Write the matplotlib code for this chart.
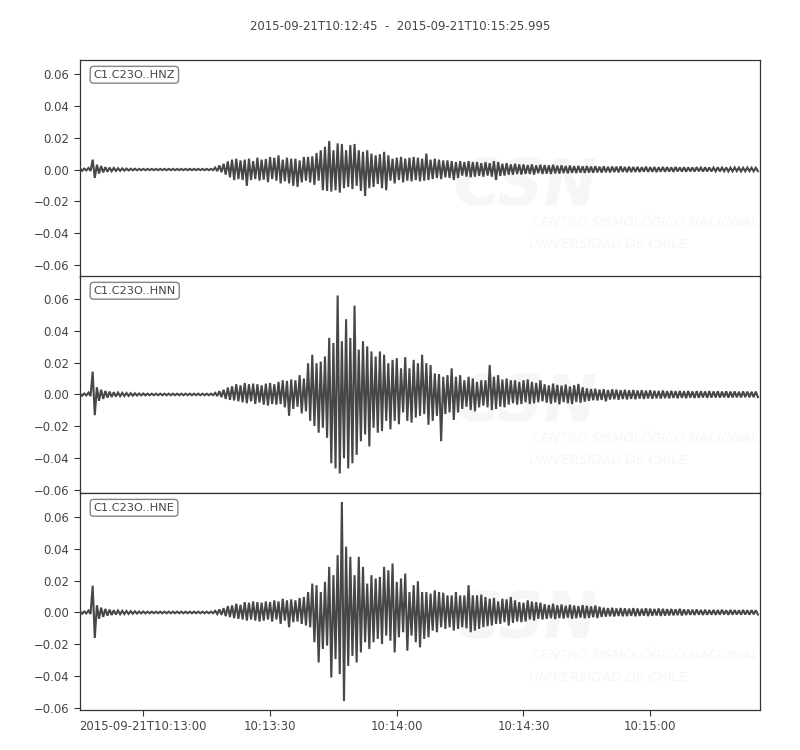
import datetime as dt
import numpy as np
import matplotlib
matplotlib.use('Agg')
import matplotlib.pyplot as plt
import matplotlib.dates as mdates

# trace start / end (UTC)
starttime = dt.datetime(2015, 9, 21, 10, 12, 45)
duration = 160.995  # s
title = "2015-09-21T10:12:45  -  2015-09-21T10:15:25.995"

channels = ["C1.C23O..HNZ", "C1.C23O..HNN", "C1.C23O..HNE"]

# max / min of each 1 s bin (bins start at 0, 1, ..., 160 s)
sec = np.arange(0, 161)

hnz_max = ([0.0008, 0.0006, 0.0010, 0.0062, 0.0030, 0.0022, 0.0015, 0.0012, 0.0010, 0.0008,
            0.0007, 0.0006, 0.0005, 0.0005, 0.0004, 0.0004, 0.0004, 0.0004, 0.0004, 0.0004,
            0.0004, 0.0004, 0.0004, 0.0004, 0.0004, 0.0004, 0.0004, 0.0004, 0.0004, 0.0004] +
           [0.0004, 0.0004, 0.0012, 0.0026, 0.0036, 0.0051, 0.0062, 0.0068, 0.0057, 0.0062,
            0.0068, 0.0053, 0.0074, 0.0062, 0.0066, 0.0079, 0.0074, 0.0089, 0.0062, 0.0074,
            0.0068, 0.0068, 0.0057, 0.0079, 0.0079, 0.0083, 0.0104, 0.0121, 0.0143, 0.0179,
            0.0121, 0.0164, 0.0160, 0.0121, 0.0153, 0.0160, 0.0121, 0.0111, 0.0121, 0.0100,
            0.0089, 0.0096, 0.0111, 0.0089, 0.0068, 0.0074, 0.0079, 0.0068, 0.0074, 0.0079,
            0.0074, 0.0068, 0.0100, 0.0062, 0.0068, 0.0062, 0.0057, 0.0057, 0.0053, 0.0047,
            0.0053, 0.0047, 0.0053, 0.0047, 0.0047, 0.0040, 0.0047, 0.0040, 0.0053, 0.0047,
            0.0036, 0.0040, 0.0032, 0.0036, 0.0032, 0.0032, 0.0028, 0.0032, 0.0026, 0.0030] +
           [0.0028, 0.0026, 0.0030, 0.0024, 0.0026, 0.0022, 0.0025, 0.0021, 0.0023, 0.0020,
            0.0022, 0.0019, 0.0021, 0.0018, 0.0020, 0.0017, 0.0019, 0.0018, 0.0020, 0.0016,
            0.0018, 0.0016, 0.0017, 0.0015, 0.0018, 0.0015, 0.0016, 0.0014, 0.0016, 0.0015,
            0.0014, 0.0016, 0.0013, 0.0015, 0.0014, 0.0013, 0.0015, 0.0012, 0.0014, 0.0013,
            0.0012, 0.0014, 0.0012, 0.0013, 0.0011, 0.0013, 0.0012, 0.0011, 0.0012, 0.0011,
            0.0011])
hnz_min = ([-0.0008, -0.0006, -0.0009, -0.0053, -0.0025, -0.0018, -0.0014, -0.0011, -0.0009, -0.0008,
            -0.0007, -0.0006, -0.0005, -0.0005, -0.0004, -0.0004, -0.0004, -0.0004, -0.0004, -0.0004,
            -0.0004, -0.0004, -0.0004, -0.0004, -0.0004, -0.0004, -0.0004, -0.0004, -0.0004, -0.0004] +
           [-0.0004, -0.0004, -0.0010, -0.0017, -0.0032, -0.0049, -0.0066, -0.0060, -0.0066, -0.0102,
            -0.0066, -0.0060, -0.0070, -0.0064, -0.0079, -0.0060, -0.0070, -0.0087, -0.0074, -0.0087,
            -0.0102, -0.0109, -0.0081, -0.0070, -0.0081, -0.0096, -0.0070, -0.0130, -0.0134, -0.0138,
            -0.0130, -0.0145, -0.0117, -0.0109, -0.0123, -0.0102, -0.0134, -0.0166, -0.0117, -0.0109,
            -0.0091, -0.0117, -0.0130, -0.0070, -0.0087, -0.0066, -0.0081, -0.0070, -0.0074, -0.0066,
            -0.0074, -0.0070, -0.0066, -0.0060, -0.0053, -0.0060, -0.0049, -0.0053, -0.0066, -0.0053,
            -0.0038, -0.0045, -0.0049, -0.0045, -0.0040, -0.0045, -0.0038, -0.0045, -0.0066, -0.0040,
            -0.0038, -0.0032, -0.0032, -0.0028, -0.0032, -0.0028, -0.0028, -0.0032, -0.0023, -0.0028] +
           [-0.0026, -0.0028, -0.0024, -0.0025, -0.0022, -0.0024, -0.0021, -0.0022, -0.0020, -0.0021,
            -0.0019, -0.0020, -0.0018, -0.0019, -0.0017, -0.0018, -0.0016, -0.0018, -0.0015, -0.0017,
            -0.0016, -0.0015, -0.0016, -0.0014, -0.0015, -0.0014, -0.0016, -0.0013, -0.0014, -0.0013,
            -0.0014, -0.0012, -0.0013, -0.0014, -0.0012, -0.0013, -0.0011, -0.0013, -0.0012, -0.0012,
            -0.0011, -0.0012, -0.0011, -0.0012, -0.0011, -0.0010, -0.0012, -0.0011, -0.0010, -0.0011,
            -0.0010])

hnn_max = ([0.0008, 0.0006, 0.0012, 0.0143, 0.0045, 0.0030, 0.0022, 0.0018, 0.0014, 0.0012,
            0.0010, 0.0009, 0.0008, 0.0007, 0.0006, 0.0006, 0.0005, 0.0005, 0.0005, 0.0005,
            0.0005, 0.0005, 0.0005, 0.0005, 0.0005, 0.0005, 0.0005, 0.0005, 0.0005, 0.0005] +
           [0.0005, 0.0005, 0.0010, 0.0021, 0.0030, 0.0043, 0.0051, 0.0064, 0.0057, 0.0072,
            0.0064, 0.0068, 0.0064, 0.0057, 0.0068, 0.0072, 0.0064, 0.0079, 0.0089, 0.0085,
            0.0094, 0.0089, 0.0121, 0.0100, 0.0196, 0.0249, 0.0196, 0.0206, 0.0238, 0.0355,
            0.0323, 0.0621, 0.0334, 0.0472, 0.0355, 0.0557, 0.0281, 0.0334, 0.0302, 0.0270,
            0.0238, 0.0270, 0.0249, 0.0196, 0.0217, 0.0228, 0.0164, 0.0234, 0.0164, 0.0217,
            0.0196, 0.0249, 0.0196, 0.0185, 0.0132, 0.0128, 0.0111, 0.0121, 0.0164, 0.0111,
            0.0121, 0.0089, 0.0111, 0.0100, 0.0079, 0.0089, 0.0089, 0.0185, 0.0111, 0.0121,
            0.0094, 0.0100, 0.0089, 0.0089, 0.0079, 0.0089, 0.0094, 0.0079, 0.0072, 0.0089] +
           [0.0064, 0.0057, 0.0068, 0.0060, 0.0055, 0.0062, 0.0050, 0.0058, 0.0066, 0.0045,
            0.0038, 0.0034, 0.0036, 0.0030, 0.0033, 0.0028, 0.0032, 0.0030, 0.0027, 0.0029,
            0.0026, 0.0028, 0.0025, 0.0027, 0.0024, 0.0026, 0.0023, 0.0022, 0.0024, 0.0021,
            0.0023, 0.0021, 0.0022, 0.0020, 0.0022, 0.0019, 0.0021, 0.0020, 0.0019, 0.0021,
            0.0019, 0.0020, 0.0018, 0.0020, 0.0018, 0.0019, 0.0017, 0.0019, 0.0018, 0.0017,
            0.0018])
hnn_min = ([-0.0008, -0.0006, -0.0010, -0.0130, -0.0040, -0.0028, -0.0020, -0.0016, -0.0013, -0.0011,
            -0.0010, -0.0009, -0.0008, -0.0007, -0.0006, -0.0006, -0.0005, -0.0005, -0.0005, -0.0005,
            -0.0005, -0.0005, -0.0005, -0.0005, -0.0005, -0.0005, -0.0005, -0.0005, -0.0005, -0.0005] +
           [-0.0005, -0.0005, -0.0010, -0.0017, -0.0028, -0.0034, -0.0038, -0.0043, -0.0049, -0.0055,
            -0.0043, -0.0060, -0.0051, -0.0064, -0.0070, -0.0060, -0.0064, -0.0060, -0.0081, -0.0134,
            -0.0091, -0.0077, -0.0119, -0.0106, -0.0166, -0.0198, -0.0240, -0.0209, -0.0272, -0.0432,
            -0.0464, -0.0496, -0.0400, -0.0464, -0.0432, -0.0379, -0.0294, -0.0251, -0.0326, -0.0209,
            -0.0240, -0.0230, -0.0166, -0.0219, -0.0166, -0.0187, -0.0113, -0.0166, -0.0177, -0.0145,
            -0.0134, -0.0123, -0.0190, -0.0166, -0.0134, -0.0294, -0.0123, -0.0113, -0.0160, -0.0113,
            -0.0091, -0.0077, -0.0098, -0.0106, -0.0081, -0.0070, -0.0081, -0.0098, -0.0091, -0.0077,
            -0.0081, -0.0064, -0.0055, -0.0064, -0.0060, -0.0049, -0.0060, -0.0055, -0.0049, -0.0043] +
           [-0.0052, -0.0058, -0.0050, -0.0062, -0.0048, -0.0055, -0.0060, -0.0047, -0.0052, -0.0045,
            -0.0040, -0.0036, -0.0038, -0.0034, -0.0043, -0.0032, -0.0030, -0.0033, -0.0029, -0.0031,
            -0.0028, -0.0030, -0.0026, -0.0028, -0.0025, -0.0027, -0.0024, -0.0026, -0.0023, -0.0024,
            -0.0022, -0.0024, -0.0021, -0.0023, -0.0020, -0.0022, -0.0021, -0.0019, -0.0021, -0.0020,
            -0.0019, -0.0020, -0.0018, -0.0020, -0.0019, -0.0018, -0.0019, -0.0017, -0.0018, -0.0017,
            -0.0017])

hne_max = ([0.0008, 0.0006, 0.0012, 0.0168, 0.0045, 0.0030, 0.0022, 0.0018, 0.0014, 0.0012,
            0.0010, 0.0009, 0.0008, 0.0007, 0.0006, 0.0006, 0.0005, 0.0005, 0.0005, 0.0005,
            0.0005, 0.0005, 0.0005, 0.0005, 0.0005, 0.0005, 0.0005, 0.0005, 0.0005, 0.0005] +
           [0.0005, 0.0005, 0.0010, 0.0019, 0.0027, 0.0040, 0.0044, 0.0055, 0.0048, 0.0065,
            0.0061, 0.0069, 0.0065, 0.0061, 0.0069, 0.0065, 0.0076, 0.0069, 0.0086, 0.0076,
            0.0082, 0.0076, 0.0091, 0.0097, 0.0128, 0.0181, 0.0171, 0.0128, 0.0192, 0.0286,
            0.0234, 0.0360, 0.0693, 0.0413, 0.0349, 0.0234, 0.0349, 0.0286, 0.0181, 0.0234,
            0.0213, 0.0223, 0.0286, 0.0265, 0.0307, 0.0192, 0.0213, 0.0244, 0.0128, 0.0171,
            0.0196, 0.0128, 0.0128, 0.0118, 0.0139, 0.0128, 0.0124, 0.0107, 0.0107, 0.0128,
            0.0107, 0.0107, 0.0171, 0.0107, 0.0107, 0.0112, 0.0097, 0.0086, 0.0091, 0.0069,
            0.0086, 0.0082, 0.0097, 0.0076, 0.0065, 0.0061, 0.0076, 0.0069, 0.0065, 0.0061] +
           [0.0052, 0.0047, 0.0055, 0.0045, 0.0050, 0.0042, 0.0048, 0.0044, 0.0040, 0.0046,
            0.0042, 0.0038, 0.0044, 0.0036, 0.0030, 0.0027, 0.0029, 0.0025, 0.0028, 0.0026,
            0.0024, 0.0027, 0.0025, 0.0023, 0.0026, 0.0024, 0.0022, 0.0025, 0.0023, 0.0021,
            0.0022, 0.0020, 0.0023, 0.0019, 0.0018, 0.0017, 0.0019, 0.0016, 0.0017, 0.0015,
            0.0016, 0.0015, 0.0017, 0.0014, 0.0016, 0.0015, 0.0014, 0.0016, 0.0014, 0.0015,
            0.0014])
hne_min = ([-0.0008, -0.0006, -0.0010, -0.0160, -0.0040, -0.0028, -0.0020, -0.0016, -0.0013, -0.0011,
            -0.0010, -0.0009, -0.0008, -0.0007, -0.0006, -0.0006, -0.0005, -0.0005, -0.0005, -0.0005,
            -0.0005, -0.0005, -0.0005, -0.0005, -0.0005, -0.0005, -0.0005, -0.0005, -0.0005, -0.0005] +
           [-0.0005, -0.0005, -0.0010, -0.0015, -0.0023, -0.0029, -0.0036, -0.0040, -0.0044, -0.0051,
            -0.0044, -0.0051, -0.0057, -0.0051, -0.0044, -0.0057, -0.0044, -0.0072, -0.0051, -0.0093,
            -0.0061, -0.0057, -0.0072, -0.0082, -0.0093, -0.0187, -0.0314, -0.0229, -0.0208, -0.0408,
            -0.0293, -0.0387, -0.0556, -0.0335, -0.0272, -0.0314, -0.0251, -0.0187, -0.0229, -0.0187,
            -0.0166, -0.0198, -0.0145, -0.0177, -0.0251, -0.0156, -0.0124, -0.0240, -0.0145, -0.0187,
            -0.0219, -0.0166, -0.0156, -0.0114, -0.0124, -0.0093, -0.0103, -0.0093, -0.0114, -0.0103,
            -0.0093, -0.0099, -0.0124, -0.0114, -0.0103, -0.0093, -0.0086, -0.0082, -0.0072, -0.0072,
            -0.0061, -0.0082, -0.0065, -0.0057, -0.0061, -0.0057, -0.0044, -0.0051, -0.0040, -0.0044] +
           [-0.0040, -0.0036, -0.0042, -0.0035, -0.0038, -0.0033, -0.0039, -0.0036, -0.0032, -0.0037,
            -0.0034, -0.0030, -0.0035, -0.0028, -0.0026, -0.0024, -0.0025, -0.0022, -0.0024, -0.0023,
            -0.0021, -0.0024, -0.0022, -0.0020, -0.0023, -0.0021, -0.0019, -0.0022, -0.0020, -0.0019,
            -0.0018, -0.0017, -0.0019, -0.0016, -0.0015, -0.0016, -0.0014, -0.0016, -0.0015, -0.0014,
            -0.0015, -0.0014, -0.0013, -0.0015, -0.0014, -0.0013, -0.0014, -0.0013, -0.0014, -0.0012,
            -0.0013])

ytick_values = [-0.06, -0.04, -0.02, 0.0, 0.02, 0.04, 0.06]
xtick_offsets = [15, 45, 75, 105, 135]  # s after start
xtick_labels = ["2015-09-21T10:13:00", "10:13:30", "10:14:00", "10:14:30", "10:15:00"]

traces = [(hnz_max, hnz_min), (hnn_max, hnn_min), (hne_max, hne_min)]
for hi, lo in traces:
    assert len(hi) == len(sec) and len(lo) == len(sec)

plt.rcParams['font.family'] = 'DejaVu Sans'
tcol = '#444444'
trace_col = '#474747'
wm_col = '#f6f6f6'
fs = 8.4

t0 = mdates.date2num(starttime)
def tnum(s):
    return t0 + np.asarray(s, dtype=float) / 86400.

# same vertical range for every trace, centred on each trace
half = max((max(hi) - min(lo)) / 2. for hi, lo in traces) * 1.09

fig = plt.figure(figsize=(8, 7.5), dpi=100)
bottoms = [0.6307, 0.3427, 0.0533]
height = 0.2893
axes = []
for i, (hi, lo) in enumerate(traces):
    ax = fig.add_axes([0.1, bottoms[i], 0.85, height], sharex=axes[0] if axes else None)
    axes.append(ax)
    # min/max per bin as a zigzag (max at bin start, min half a bin later)
    xs = np.empty(2 * len(sec))
    ys = np.empty(2 * len(sec))
    xs[0::2] = tnum(sec)
    xs[1::2] = tnum(sec + 0.5)
    ys[0::2] = hi
    ys[1::2] = lo
    ax.plot(xs, ys, color=trace_col, lw=1.5, zorder=3, solid_joinstyle='miter')

    # faint CSN watermark
    ax.text(0.55, 0.33, "CSN", transform=ax.transAxes, fontsize=46, fontweight='bold',
            fontstyle='italic', color=wm_col, zorder=0, ha='left', va='baseline')
    ax.text(0.665, 0.25, "CENTRO SISMOLÓGICO NACIONAL", transform=ax.transAxes, fontsize=9.5,
            fontstyle='italic', color=wm_col, zorder=0, ha='left', va='center')
    ax.text(0.66, 0.15, "UNIVERSIDAD DE CHILE", transform=ax.transAxes, fontsize=9.5,
            fontstyle='italic', color=wm_col, zorder=0, ha='left', va='center')

    ax.text(0.02, 0.955, channels[i], transform=ax.transAxes, fontsize=8.2, color=tcol,
            ha='left', va='top', zorder=5,
            bbox=dict(boxstyle='round,pad=0.3', fc='w', ec='#666666', alpha=0.8))

    c = (max(hi) + min(lo)) / 2.
    ax.set_ylim(c - half, c + half)
    ax.set_yticks(ytick_values)
    ax.set_yticklabels(["%.2f" % v if v >= 0 else "\u2212%.2f" % -v for v in ytick_values])
    for s in ax.spines.values():
        s.set_color('#333333')
        s.set_linewidth(0.9)
    ax.tick_params(axis='y', labelsize=fs, labelcolor=tcol, color='#333333', length=4)
    if i < 2:
        ax.tick_params(axis='x', bottom=False, labelbottom=False)

axes[0].set_xlim(tnum(0), tnum(duration))
ax = axes[-1]
ax.set_xticks(tnum(xtick_offsets))
ax.set_xticklabels(xtick_labels)
ax.tick_params(axis='x', labelsize=fs, labelcolor=tcol, color='#333333', length=4)

fig.suptitle(title, y=0.973, fontsize=fs, color=tcol)

plt.savefig("out.png", dpi=100)
